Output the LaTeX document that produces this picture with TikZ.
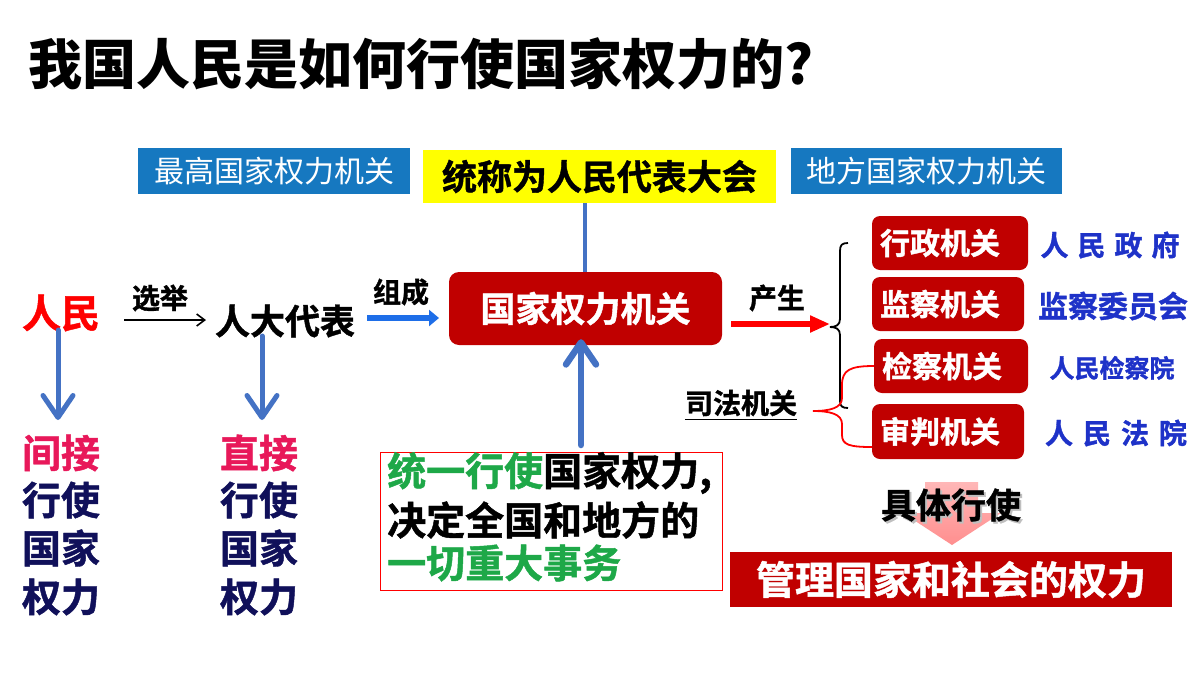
\documentclass[tikz,border=0pt]{standalone}
\usepackage{fontspec}
\setmainfont{Noto Sans CJK SC}[BoldFont={Noto Sans CJK SC Bold}, BoldFeatures={FakeBold=1.2}]
\newfontfamily\heavyfont{Noto Sans CJK SC Black}
\usetikzlibrary{arrows.meta}
\definecolor{boxblue}{RGB}{22,120,192}
\definecolor{darkred}{RGB}{192,0,0}
\definecolor{arrblue}{RGB}{68,114,196}
\definecolor{brblue}{RGB}{30,110,232}
\definecolor{txtblue}{RGB}{30,50,200}
\definecolor{mygreen}{RGB}{30,168,72}
\definecolor{mypink}{RGB}{232,24,90}
\definecolor{navy}{RGB}{16,16,90}
\definecolor{myyellow}{RGB}{255,255,0}
\tikzset{
  fs/.style={font=\fontsize{#1}{#1}\selectfont},
  bluebox/.style={fill=boxblue, text=white, inner sep=0pt, fs=30},
  redbox/.style={fill=darkred, text=white, inner ysep=0pt, inner xsep=8pt, rounded corners=8pt, align=left, font=\fontsize{30}{30}\selectfont\bfseries},
  rtext/.style={text=txtblue, inner sep=0pt, font=\fontsize{#1}{#1}\selectfont\bfseries},
  coltext/.style={inner sep=0pt, font=\fontsize{39}{39}\selectfont\bfseries},
  lbl/.style={inner sep=0pt, font=\fontsize{#1}{#1}\selectfont\bfseries},
  darrow/.style={draw=arrblue, line width=5pt, line cap=round, -{Straight Barb[length=22pt,width=30pt,round]}},
}
\begin{document}
\begin{tikzpicture}[x=1pt,y=-1pt]
\useasboundingbox (0,0) rectangle (1200,675);
\fill[white] (0,0) rectangle (1200,675);

% title
\node[anchor=west, inner sep=0pt, font=\fontsize{54}{54}\selectfont\heavyfont] (title) at (28,64) {我国人民是如何行使国家权力的?};

% top boxes
\node[bluebox, minimum width=272pt, minimum height=46pt] (zg) at (274,171) {最高国家权力机关};
\node[fill=myyellow, inner sep=0pt, minimum width=353pt, minimum height=53pt, font=\fontsize{35}{35}\selectfont\bfseries] (tc) at (599.5,176.5) {统称为人民代表大会};
\node[bluebox, minimum width=271pt, minimum height=46pt] (df) at (926.5,171) {地方国家权力机关};

% central box
\node[fill=darkred, text=white, inner sep=0pt, minimum width=273pt, minimum height=73pt, rounded corners=10pt, font=\fontsize{35}{35}\selectfont\bfseries] (gj) at (585.5,308.5) {国家权力机关};
\draw[arrblue, line width=4pt] (tc.south -| 585,0) -- (gj.north -| 585,0);

% left flow
\node[lbl=39, text=red] (rm) at (61,313) {人民};
\node[lbl=35] (rd) at (285,321) {人大代表};
\coordinate (xa) at (124,320);
\coordinate (xb) at (206,320);
\draw[line width=1.6pt, -{Straight Barb[length=8pt,width=12pt]}] (xa) -- (xb);
\node[lbl=28] (xj) at (160,298) {选举};
\coordinate (za) at (367,318);
\coordinate (zb) at (439,318);
\draw[brblue, line width=6pt, -{Triangle[length=10pt,width=16pt]}] (za) -- (zb);
\node[lbl=28] (zc) at (401,292) {组成};

% produce arrow
\coordinate (ca) at (731,324);
\coordinate (cb) at (830,324);
\draw[red, line width=6pt, -{Triangle[length=20pt,width=16pt]}] (ca) -- (cb);
\node[lbl=28] (cs) at (777,298) {产生};

% black brace
\coordinate (btip) at (830,327);
\draw[line width=1.8pt] (848,243) .. controls (842,243) and (840,245) .. (840,251) -- (840,319) .. controls (840,325) and (836,327) .. (btip) .. controls (836,327) and (840,329) .. (840,335) -- (840,401) .. controls (840,406) and (842,408) .. (848,408);

% organ boxes
\node[redbox, text width=140pt, minimum height=54pt] (xz) at (950,243) {行政机关};
\node[redbox, text width=136pt, minimum height=54pt] (jc) at (948,304) {监察机关};
\node[redbox, text width=138pt, minimum height=54pt] (jy) at (951,366) {检察机关};
\node[redbox, text width=136pt, minimum height=55pt] (sp) at (948,431.5) {审判机关};

\node[rtext=28] (t1) at (1110,245) {人\hspace{9pt}民\hspace{9pt}政\hspace{9pt}府};
\node[rtext=30] (t2) at (1113,306) {监察委员会};
\node[rtext=25] (t3) at (1112,368) {人民检察院};
\node[rtext=28] (t4) at (1116,433) {人\hspace{10pt}民\hspace{10pt}法\hspace{10pt}院};

% judicial brace
\node[lbl=28] (sf) at (741,403) {司法机关};
\draw[line width=1.5pt] ([yshift=-3pt]sf.south west) -- ([yshift=-3pt]sf.south east);
\coordinate (rtip) at (813,411);
\draw[red, line width=1.8pt] (jy.west) .. controls (850,366) and (842,370) .. (842,385) -- (842,398) .. controls (842,408) and (830,411) .. (rtip) .. controls (830,411) and (842,414) .. (842,424) -- (842,435) .. controls (842,445) and (850,447) .. (sp.west |- 0,447);

% up arrow and text box
\node[draw=red, line width=0.8pt, minimum width=342pt, minimum height=138pt, inner sep=0pt] (tb) at (551,521) {};
\node[anchor=west, lbl=39] (l1) at (387,473) {\textcolor{mygreen}{统一行使}国家权力,};
\node[anchor=west, lbl=39] (l2) at (387,520) {决定全国和地方的};
\node[anchor=west, lbl=39, text=mygreen] (l3) at (387,563) {一切重大事务};
\coordinate (ua) at (581,445);
\draw[arrblue, line width=6.5pt, line cap=round, -{Straight Barb[length=22pt,width=30pt,round]}] (ua) -- ([yshift=6pt]gj.south -| ua);

% down arrows
\coordinate (d1) at (58,330);
\coordinate (d2) at (262,336);
\draw[darrow] (d1) -- (58,420);
\draw[darrow] (d2) -- (262,420);

% columns
\node[coltext, text=mypink] (a1) at (61,453) {间接};
\node[coltext, text=navy] (a2) at (61,500) {行使};
\node[coltext, text=navy] (a3) at (61,548) {国家};
\node[coltext, text=navy] (a4) at (61,597) {权力};
\node[coltext, text=mypink] (b1) at (259,453) {直接};
\node[coltext, text=navy] (b2) at (259,500) {行使};
\node[coltext, text=navy] (b3) at (259,548) {国家};
\node[coltext, text=navy] (b4) at (259,597) {权力};

% exercise arrow
\shade[top color=red!35, bottom color=red!55, opacity=0.8] (925,482) -- (978,482) -- (978,513) -- (1001,513) -- (952,545) -- (903,513) -- (925,513) -- cycle;
\node[lbl=35, text=black!25] at (953,507) {具体行使};
\node[lbl=35] (jt) at (951,505) {具体行使};
\node[fill=darkred, text=white, inner sep=0pt, minimum width=442pt, minimum height=55pt, font=\fontsize{39}{39}\selectfont\bfseries] (gl) at (951,579.5) {管理国家和社会的权力};
\end{tikzpicture}
\end{document}
